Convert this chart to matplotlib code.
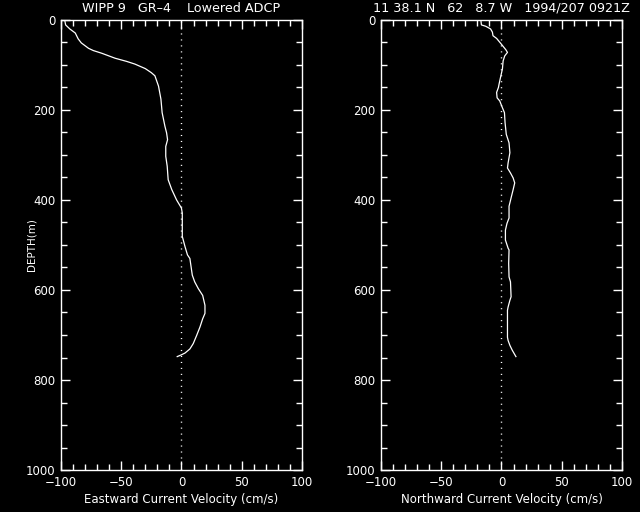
import matplotlib
matplotlib.use("Agg")
import matplotlib.pyplot as plt
from matplotlib.ticker import MultipleLocator

# Eastward profile (cm/s) vs depth (m)
east_depth = [1, 11, 20, 29, 42, 51, 63, 68, 74, 85, 92, 98, 108, 117, 124, 147, 176, 206,
              236, 251, 266, 281, 303, 325, 355, 377, 400, 418, 429, 444, 481, 504, 522, 530,
              567, 582, 597, 612, 634, 652, 664, 682, 701, 719, 731, 740, 744, 748]
east_u = [-96.7, -96, -92.5, -88, -85.6, -83, -77, -73, -66, -55, -45.5, -38.6, -30, -25, -22,
          -19, -17, -16, -13.7, -12.3, -11.5, -13, -13, -11.8, -11, -8, -4, 0, 0.7, 0.7, 0.7,
          3, 5, 7, 9, 11, 14, 17.6, 19.5, 19.5, 17.6, 15.4, 12.6, 9.8, 7, 3, 0, -3.5]

# Northward profile
north_depth = [1.5, 11, 14, 20, 27, 35, 41, 54, 66, 72, 80, 91, 109, 128, 143, 150, 161, 173,
               180, 195, 206, 228, 254, 273, 295, 318, 329, 340, 351, 362, 377, 392, 414, 440,
               452, 467, 489, 507, 511, 541, 571, 582, 615, 623, 638, 645, 705, 712, 723, 734, 748]
north_v = [-17, -16.6, -13, -9, -7.5, -7, -4, 0, 3.6, 5, 2.7, 1.4, 0.8, -0.8, -2, -2.5, -4, -3.6,
           -1.4, 0.8, 2.5, 3, 4, 6.3, 7, 5.5, 5, 7.5, 9.7, 11, 9.7, 8.3, 6.3, 6.3, 4.6, 3.3, 3.3,
           5.5, 6.3, 6, 6.3, 7.5, 8, 7, 5.5, 5, 5, 5.5, 7, 9, 12]

xticks = [-100, -50, 0, 50, 100]
xticklabels = ["\u2212100", "\u221250", "0", "50", "100"]
yticks = [0, 200, 400, 600, 800, 1000]

title_left = "WIPP 9   GR\u20134    Lowered ADCP"
title_right = "11 38.1 N   62   8.7 W   1994/207 0921Z"
xlabel_left = "Eastward Current Velocity (cm/s)"
xlabel_right = "Northward Current Velocity (cm/s)"

fig = plt.figure(figsize=(6.4, 5.12), dpi=100, facecolor="black")
ax1 = fig.add_axes([0.095, 0.082, 0.377, 0.879])
ax2 = fig.add_axes([0.595, 0.082, 0.377, 0.879])

for ax, x, d, xl in [(ax1, east_u, east_depth, xlabel_left),
                     (ax2, north_v, north_depth, xlabel_right)]:
    ax.set_facecolor("black")
    ax.plot(x, d, color="white", lw=0.9)
    ax.axvline(0, color="white", lw=1.0, linestyle=(0, (0.8, 3.5)))
    ax.set_xlim(-100, 100)
    ax.set_ylim(1000, 0)
    ax.set_xticks(xticks)
    ax.set_xticklabels(xticklabels)
    ax.set_yticks(yticks)
    ax.xaxis.set_minor_locator(MultipleLocator(10))
    ax.yaxis.set_minor_locator(MultipleLocator(50))
    ax.tick_params(which="both", direction="in", top=True, right=True, colors="white",
                   labelsize=8.5, width=1)
    ax.tick_params(which="major", length=6.5, pad=4)
    ax.tick_params(which="minor", length=4.3)
    for s in ax.spines.values():
        s.set_color("white")
        s.set_linewidth(1)
    ax.set_xlabel(xl, color="white", fontsize=8.5, labelpad=3)

ax1.set_ylabel("DEPTH(m)", color="white", fontsize=7.5)
ax1.yaxis.set_label_coords(-0.1, 0.5)
ax1.set_title(title_left, color="white", fontsize=9.2, pad=6)
ax2.set_title(title_right, color="white", fontsize=9.2, pad=6)

fig.savefig("out.png", dpi=100, facecolor="black")
